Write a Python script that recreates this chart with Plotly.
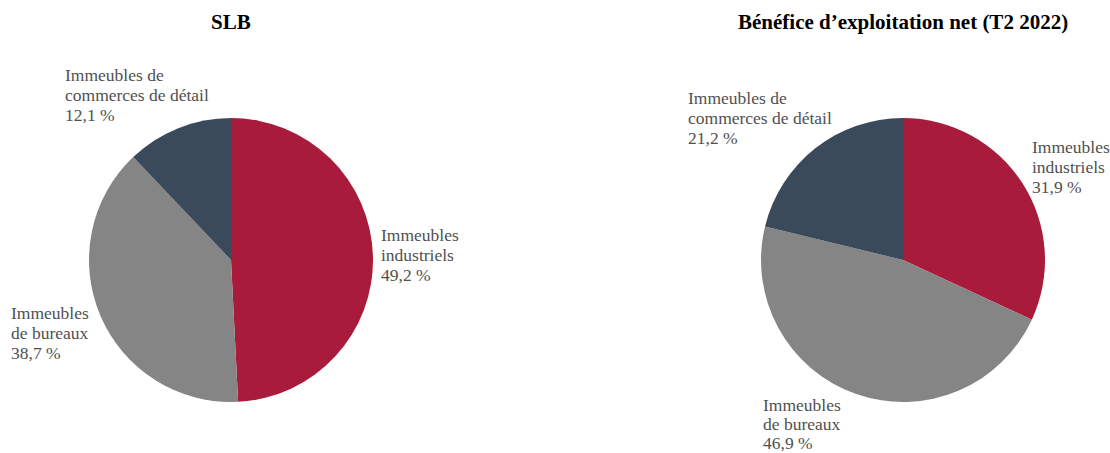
import plotly.graph_objects as go

W, H = 1110, 453

categories = ["Immeubles industriels", "Immeubles de bureaux", "Immeubles de commerces de détail"]
slb_values = [49.2, 38.7, 12.1]
beo_values = [31.9, 46.9, 21.2]
colors = ["#A91B3A", "#858585", "#3A4A5A"]
titles = ["SLB", "Bénéfice d’exploitation net (T2 2022)"]

slb_labels = [["Immeubles", "industriels", "49,2 %"],
              ["Immeubles", "de bureaux", "38,7 %"],
              ["Immeubles de", "commerces de détail", "12,1 %"]]
beo_labels = [["Immeubles", "industriels", "31,9 %"],
              ["Immeubles", "de bureaux", "46,9 %"],
              ["Immeubles de", "commerces de détail", "21,2 %"]]

FONT = "Liberation Serif"

def px(x, y):
    return x / W, 1 - y / H

fig = go.Figure()
for vals, (x0, x1) in [(slb_values, (89, 373)), (beo_values, (761, 1045))]:
    xa, ya = px(x0, 402)
    xb, yb = px(x1, 118)
    fig.add_trace(go.Pie(
        labels=categories, values=vals, sort=False, direction="clockwise",
        rotation=0, marker=dict(colors=colors, line=dict(width=0)),
        textinfo="none", hoverinfo="label+percent", showlegend=False,
        domain=dict(x=[xa, xb], y=[ya, yb]),
    ))

for t, cx in zip(titles, [231, 903]):
    x, y = px(cx, 22)
    fig.add_annotation(text=f"<b>{t}</b>", x=x, y=y, xref="paper", yref="paper",
                       xanchor="center", yanchor="middle", showarrow=False,
                       font=dict(family=FONT, size=21, color="#000000"))

# slice labels: left x, y of first line centre (px), line step (px)
label_pos = [
    (slb_labels[0], 379, 235, 20), (slb_labels[1], 9, 313, 20), (slb_labels[2], 63, 75, 20),
    (beo_labels[0], 1030, 147, 20), (beo_labels[1], 761, 405, 19), (beo_labels[2], 686, 98, 20),
]
for lines, lx, ly, step in label_pos:
    for i, line in enumerate(lines):
        x, y = px(lx, ly + step * i)
        fig.add_annotation(text=line, x=x, y=y, xref="paper", yref="paper",
                           xanchor="left", yanchor="middle", align="left", showarrow=False,
                           font=dict(family=FONT, size=17.5, color="#505050"))

fig.update_layout(width=W, height=H, margin=dict(l=0, r=0, t=0, b=0),
                  paper_bgcolor="white", plot_bgcolor="white")
fig.write_html("out.html", config={"displayModeBar": False},
               post_script="document.body.style.margin='0';document.body.style.overflow='hidden';")
